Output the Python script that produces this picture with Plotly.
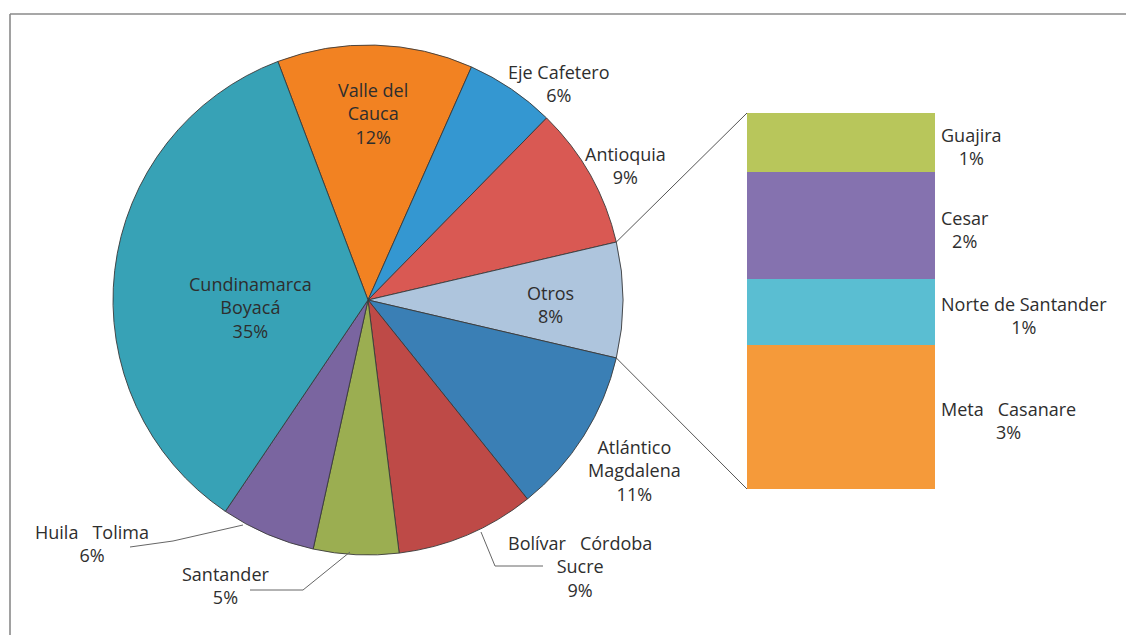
import plotly.graph_objects as go
import math

# ---------------- data ----------------
pie_names = ["Valle del Cauca", "Eje Cafetero", "Antioquia", "Otros",
             "Atlántico Magdalena", "Bolívar Córdoba Sucre", "Santander",
             "Huila Tolima", "Cundinamarca Boyacá"]
pie_values = [12.4, 5.7, 9.0, 7.3, 10.6, 8.8, 5.4, 6.0, 34.8]
pie_pct = ["12%", "6%", "9%", "8%", "11%", "9%", "5%", "6%", "35%"]

bar_names = ["Meta Casanare", "Norte de Santander", "Cesar", "Guajira"]   # bottom -> top
bar_values = [2.80, 1.28, 2.08, 1.14]
bar_pct = ["3%", "1%", "2%", "1%"]

# ---------------- style / layout ----------------
W, H = 1126, 635
pie_colors = ["#F28222", "#3497D1", "#D95953", "#AEC5DD", "#3A7FB5",
              "#BE4A47", "#9BAE51", "#7A65A0", "#37A2B6"]
bar_colors = ["#F59A3A", "#5ABED2", "#8572AF", "#B8C65B"]
FONT = "Open Sans"
TXT = "#2E2E2E"
FS = 18

cx, cy, R = 368, 300, 255          # pie centre / radius in px
bar_x0, bar_x1, bar_y0, bar_y1 = 747, 935, 113, 489   # bar box in px

def px(x):
    return x / W

def py(y):
    return 1 - y / H

label_text = {
    "Valle del Cauca": "Valle del<br>Cauca",
    "Eje Cafetero": "Eje Cafetero",
    "Antioquia": "Antioquia",
    "Otros": "Otros",
    "Atlántico Magdalena": "Atlántico<br>Magdalena",
    "Bolívar Córdoba Sucre": "Bolívar\u00a0\u00a0\u00a0Córdoba<br>Sucre",
    "Santander": "Santander",
    "Huila Tolima": "Huila\u00a0\u00a0\u00a0Tolima",
    "Cundinamarca Boyacá": "Cundinamarca<br>Boyacá",
}
label_pos = {
    "Valle del Cauca": (373, 114),
    "Eje Cafetero": (559, 83),
    "Antioquia": (625, 165),
    "Otros": (550, 304),
    "Atlántico Magdalena": (634, 471),
    "Bolívar Córdoba Sucre": (580, 566),
    "Santander": (225, 585),
    "Huila Tolima": (92, 543),
    "Cundinamarca Boyacá": (250, 307),
}
bar_label_text = {
    "Meta Casanare": "Meta\u00a0\u00a0\u00a0Casanare",
    "Norte de Santander": "Norte de Santander",
    "Cesar": "Cesar",
    "Guajira": "Guajira",
}

# rotation so that the split slice ("Otros") is centred at 3 o'clock
total = sum(pie_values)
i_otros = pie_names.index("Otros")
before = sum(pie_values[:i_otros])
start_otros = 90 - 180 * pie_values[i_otros] / total
rotation = start_otros - 360 * before / total

fig = go.Figure()
fig.add_trace(go.Pie(
    labels=pie_names, values=pie_values, sort=False, direction="clockwise",
    rotation=rotation, textinfo="none", hoverinfo="label+value",
    marker=dict(colors=pie_colors, line=dict(color="#3a3a3a", width=0.9)),
    domain=dict(x=[px(cx - R), px(cx + R)], y=[py(cy + R), py(cy - R)]),
    showlegend=False,
))

for name, val, col in zip(bar_names, bar_values, bar_colors):
    fig.add_trace(go.Bar(x=[0], y=[val], width=1, name=name,
                         marker=dict(color=col, line=dict(width=0)),
                         showlegend=False, xaxis="x", yaxis="y"))

annotations = []
for name, pct in zip(pie_names, pie_pct):
    x, y = label_pos[name]
    annotations.append(dict(x=px(x), y=py(y), xref="paper", yref="paper",
                            text=label_text[name] + "<br>" + pct, showarrow=False,
                            xanchor="center", yanchor="middle", align="center",
                            font=dict(family=FONT, size=FS, color=TXT)))
cum = 0
for name, val, pct in zip(bar_names, bar_values, bar_pct):
    mid = cum + val / 2
    cum += val
    annotations.append(dict(x=px(939), y=mid, xref="paper", yref="y",
                            text=bar_label_text[name] + "<br>" + pct, showarrow=False,
                            xanchor="left", yanchor="middle", align="center", yshift=-4,
                            font=dict(family=FONT, size=FS, color=TXT)))

# connector lines from split slice edges to bar corners
a0 = math.radians(start_otros)
a1 = math.radians(start_otros + 360 * pie_values[i_otros] / total)
p0 = (cx + R * math.sin(a0), cy - R * math.cos(a0))
p1 = (cx + R * math.sin(a1), cy - R * math.cos(a1))
shapes = [
    dict(type="line", xref="paper", yref="paper", x0=px(p0[0]), y0=py(p0[1]),
         x1=px(bar_x0), y1=py(bar_y0), line=dict(color="#555555", width=1)),
    dict(type="line", xref="paper", yref="paper", x0=px(p1[0]), y0=py(p1[1]),
         x1=px(bar_x0), y1=py(bar_y1), line=dict(color="#555555", width=1)),
]

def path(points):
    return "M " + " L ".join(f"{px(x)},{py(y)}" for x, y in points)

leaders = [
    [(243, 525), (173, 541), (130, 547)],
    [(350, 552), (303, 590), (250, 590)],
    [(481, 532), (495, 566), (543, 566)],
]
for pts in leaders:
    shapes.append(dict(type="path", xref="paper", yref="paper", path=path(pts),
                       line=dict(color="#666666", width=1)))

# outer frame (partially visible)
shapes.append(dict(type="line", xref="paper", yref="paper", x0=px(10), y0=py(14),
                   x1=1, y1=py(14), line=dict(color="#8a8a8a", width=1.6)))
shapes.append(dict(type="line", xref="paper", yref="paper", x0=px(10), y0=py(14),
                   x1=px(10), y1=0, line=dict(color="#8a8a8a", width=1.6)))

fig.update_layout(
    width=W, height=H, margin=dict(l=0, r=0, t=0, b=0),
    paper_bgcolor="white", plot_bgcolor="white",
    barmode="stack", bargap=0,
    xaxis=dict(domain=[px(bar_x0), px(bar_x1)], range=[-0.5, 0.5], visible=False, fixedrange=True),
    yaxis=dict(domain=[py(bar_y1), py(bar_y0)], range=[0, sum(bar_values)], visible=False, fixedrange=True),
    annotations=annotations, shapes=shapes,
    font=dict(family=FONT, color=TXT),
)

fig.write_html("out.html", config={"displayModeBar": False},
               post_script="document.body.style.margin='0';document.body.style.overflow='hidden';")
